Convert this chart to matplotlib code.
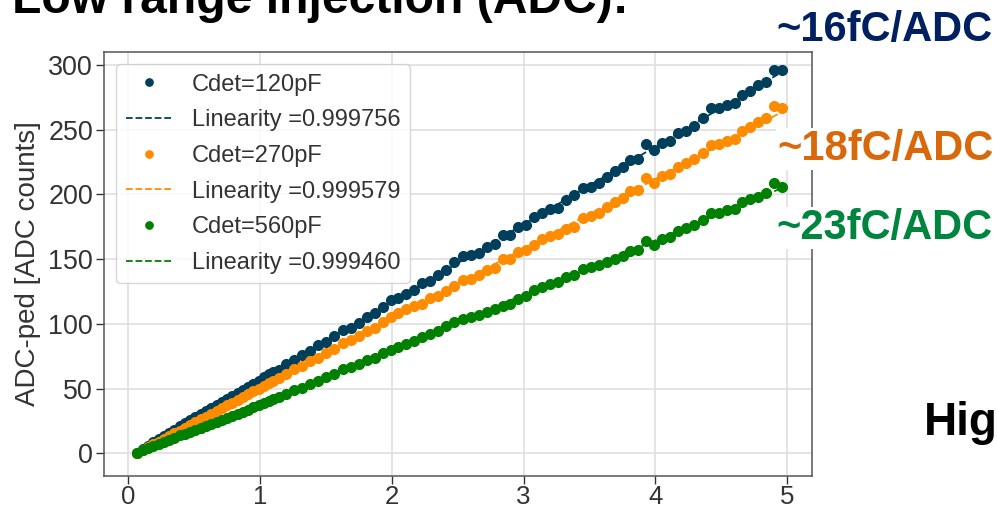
import matplotlib
matplotlib.use("Agg")
import matplotlib.pyplot as plt
import numpy as np

plt.rcParams['font.family'] = ['Liberation Sans', 'DejaVu Sans']

# injected charge [pC] - dense steps at low charge, coarser above ~1.1
charge = [0.07, 0.11, 0.15, 0.19, 0.23, 0.27, 0.31, 0.35, 0.39, 0.43,
          0.47, 0.51, 0.55, 0.59, 0.63, 0.67, 0.71, 0.75, 0.79, 0.83,
          0.87, 0.91, 0.95, 0.99, 1.03, 1.07, 1.10,
          1.14, 1.20, 1.26, 1.32, 1.38, 1.44, 1.50, 1.56, 1.63, 1.69,
          1.75, 1.81, 1.87, 1.93, 1.99, 2.05, 2.11, 2.17, 2.23, 2.29,
          2.35, 2.41, 2.47, 2.54, 2.60, 2.66, 2.72, 2.78, 2.84, 2.90,
          2.96, 3.02, 3.08, 3.14, 3.20, 3.26, 3.32, 3.38, 3.45, 3.51,
          3.57, 3.63, 3.69, 3.75, 3.81, 3.87, 3.93, 3.99, 4.05, 4.11,
          4.17, 4.23, 4.29, 4.36, 4.42, 4.48, 4.54, 4.60, 4.66, 4.72,
          4.78, 4.84, 4.90, 4.96]

adc_120 = [0.6, 3.3, 5.9, 8.4, 10.9, 13.4, 15.9, 18.3, 20.8, 23.2,
           25.6, 28.0, 30.4, 32.8, 35.1, 37.5, 39.8, 42.2, 44.5, 46.9,
           49.2, 51.5, 53.8, 56.2, 58.6, 60.9, 62.9,
           64.6, 68.9, 71.8, 76.3, 78.9, 83.4, 86.0, 90.6, 95.3, 97.2,
           100.8, 105.6, 108.4, 112.9, 118.1, 119.9, 123.3, 125.8, 131.8, 132.8,
           137.5, 141.3, 147.8, 152.5, 153.0, 155.0, 159.4, 162.0, 168.5, 168.5,
           175.0, 176.7, 182.3, 185.3, 188.6, 189.7, 195.6, 199.5, 204.7, 205.9,
           209.0, 213.7, 218.1, 221.5, 226.6, 227.4, 238.8, 234.3, 239.8, 241.2,
           247.3, 249.3, 253.0, 258.9, 266.7, 266.7, 269.3, 270.5, 277.0, 280.3,
           284.8, 286.6, 295.9, 295.9]

adc_270 = [0.5, 2.5, 4.7, 6.9, 9.0, 11.2, 13.3, 15.5, 17.6, 19.8,
           21.9, 24.1, 26.2, 28.4, 30.5, 32.7, 34.8, 37.0, 39.1, 41.3,
           43.5, 45.6, 47.8, 49.9, 52.1, 54.3, 56.0,
           58.4, 61.0, 64.8, 67.5, 71.3, 74.0, 77.8, 80.4, 85.2, 87.4,
           90.6, 94.7, 97.1, 101.2, 105.2, 108.5, 111.6, 114.2, 115.5, 119.9,
           121.5, 125.1, 129.2, 133.6, 134.4, 137.5, 141.3, 143.2, 150.4, 150.4,
           155.6, 156.8, 161.1, 165.9, 168.0, 169.8, 173.6, 174.9, 181.9, 183.5,
           185.3, 190.4, 194.3, 196.9, 202.6, 203.4, 212.4, 208.5, 214.1, 216.0,
           221.5, 224.0, 227.1, 231.8, 238.2, 239.0, 241.6, 242.6, 249.3, 251.9,
           256.3, 258.9, 268.0, 266.7]

adc_560 = [0.6, 2.3, 4.0, 5.7, 7.4, 9.0, 10.6, 12.2, 13.8, 15.3,
           16.8, 18.3, 19.8, 21.3, 22.8, 24.3, 25.8, 27.3, 28.9, 30.5,
           32.1, 33.7, 35.4, 37.1, 38.8, 40.5, 41.8,
           43.5, 45.7, 48.6, 50.8, 53.7, 55.9, 58.8, 60.9, 64.8, 66.5,
           68.9, 72.1, 74.0, 77.2, 79.6, 81.8, 84.7, 86.8, 89.7, 92.2,
           94.8, 98.7, 101.3, 103.9, 105.2, 107.0, 109.0, 111.6, 114.2, 115.5,
           119.4, 121.9, 125.8, 128.4, 130.5, 132.6, 136.2, 138.0, 142.6, 144.0,
           145.7, 147.8, 150.4, 152.5, 156.1, 156.8, 163.8, 161.2, 165.9, 167.2,
           172.0, 173.8, 176.4, 180.3, 186.0, 185.9, 187.8, 188.9, 194.3, 196.1,
           198.2, 200.8, 208.5, 206.0]

series = [adc_120, adc_270, adc_560]
cdet_labels = ['Cdet=120pF', 'Cdet=270pF', 'Cdet=560pF']
linearity = ['0.999756', '0.999579', '0.999460']
colors = ['#003f5c', '#ff8c00', '#008000']

fig = plt.figure(figsize=(9.97, 5.09), dpi=100)
ax = fig.add_axes([0.1046, 0.0654, 0.7095, 0.8318])

x = np.array(charge)
for y, lab, lin, c in zip(series, cdet_labels, linearity, colors):
    ax.plot(x, y, 'o', color=c, ms=7, label=lab, zorder=3)
    p = np.polyfit(x, y, 1)
    xf = np.array([x[0], x[-1]])
    ax.plot(xf, np.polyval(p, xf), '--', color=c, lw=1.3,
            label='Linearity =' + lin, zorder=2)

ax.set_xlim(-0.182, 5.185)
ax.set_ylim(-17.3, 309.8)
ax.set_xticks([0, 1, 2, 3, 4, 5])
ax.set_yticks([0, 50, 100, 150, 200, 250, 300])
ax.grid(True, color='#dddddd', lw=1.1, zorder=0)
ax.set_axisbelow(True)
for s in ax.spines.values():
    s.set_color('#555555')
    s.set_linewidth(1.1)
ax.tick_params(labelsize=19.4, colors='#333333', length=5.5, width=1, pad=2.5)
ax.tick_params(axis='x', labelsize=18.6, pad=1.5)
ax.set_ylabel('ADC-ped [ADC counts]', fontsize=20, color='#333333', labelpad=5)

leg = ax.legend(loc='upper left', fontsize=17, markerscale=0.75,
                labelspacing=0.58)
for t in leg.get_texts():
    t.set_color('#333333')

# slide text around the chart
W, H = 997, 509
fig.text(12 / W, 1 - 13 / H, 'Low range injection (ADC):', fontsize=34.6,
         fontweight='bold', color='black', va='baseline')
box = dict(facecolor='white', edgecolor='none', pad=1)
fig.text(776 / W, 1 - 41 / H, '~16fC/ADC', fontsize=30, fontweight='bold',
         color='#002060', va='baseline', bbox=box)
fig.text(777 / W, 1 - 160 / H, '~18fC/ADC', fontsize=30, fontweight='bold',
         color='#d9680a', va='baseline', bbox=box)
fig.text(776 / W, 1 - 239 / H, '~23fC/ADC', fontsize=30, fontweight='bold',
         color='#00853f', va='baseline', bbox=box)
fig.text(924 / W, 1 - 435 / H, 'Hig', fontsize=33, fontweight='bold',
         color='black', va='baseline')

fig.savefig('out.png', dpi=100)
